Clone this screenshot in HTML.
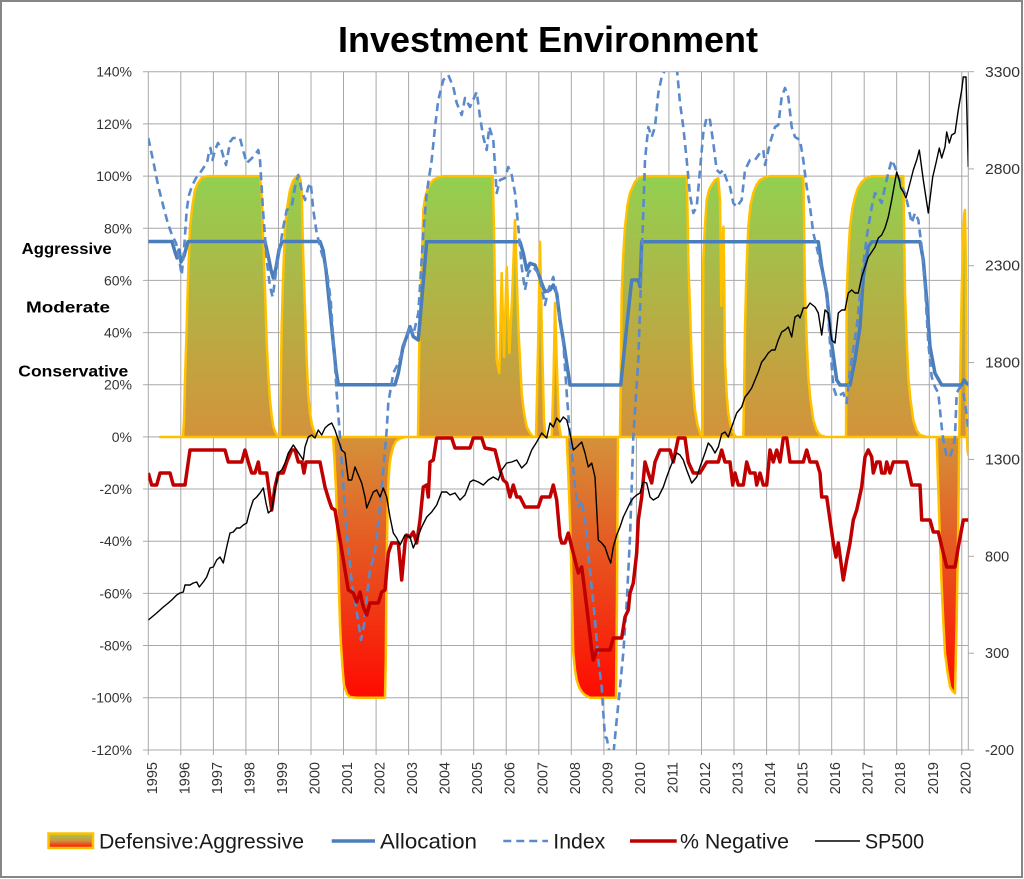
<!DOCTYPE html>
<html><head><meta charset="utf-8"><style>
html,body{margin:0;padding:0;background:#fff;}
svg{display:block;font-family:"Liberation Sans",Arial,sans-serif;}
</style></head><body>
<svg width="1024" height="879" viewBox="0 0 1024 879" xmlns="http://www.w3.org/2000/svg">
<defs>
<linearGradient id="ag" gradientUnits="userSpaceOnUse" x1="0" y1="176" x2="0" y2="698">
<stop offset="0" stop-color="#92D050"/>
<stop offset="0.5" stop-color="#D4923A"/>
<stop offset="1" stop-color="#FF0A00"/>
</linearGradient>
<linearGradient id="lg" x1="0" y1="0" x2="0" y2="1">
<stop offset="0" stop-color="#92D050"/>
<stop offset="0.5" stop-color="#D4923A"/>
<stop offset="1" stop-color="#FF0A00"/>
</linearGradient>
<clipPath id="pc"><rect x="148.3" y="71.7" width="820" height="678.3"/></clipPath>
</defs>
<rect x="0" y="0" width="1024" height="879" fill="#fff"/>
<rect x="1" y="1" width="1021" height="876" fill="none" stroke="#868686" stroke-width="2"/>

<text x="548" y="52" text-anchor="middle" font-size="36" font-weight="bold" fill="#000">Investment Environment</text>

<!-- gridlines -->
<g stroke="#A8A8A8" stroke-width="1">
<line x1="143" y1="71.7" x2="968.3" y2="71.7"/>
<line x1="143" y1="123.9" x2="968.3" y2="123.9"/>
<line x1="143" y1="176.1" x2="968.3" y2="176.1"/>
<line x1="143" y1="228.3" x2="968.3" y2="228.3"/>
<line x1="143" y1="280.4" x2="968.3" y2="280.4"/>
<line x1="143" y1="332.6" x2="968.3" y2="332.6"/>
<line x1="143" y1="384.7" x2="968.3" y2="384.7"/>
<line x1="143" y1="436.9" x2="968.3" y2="436.9"/>
<line x1="143" y1="489" x2="968.3" y2="489"/>
<line x1="143" y1="541.2" x2="968.3" y2="541.2"/>
<line x1="143" y1="593.4" x2="968.3" y2="593.4"/>
<line x1="143" y1="645.5" x2="968.3" y2="645.5"/>
<line x1="143" y1="697.7" x2="968.3" y2="697.7"/>
<line x1="143" y1="750" x2="974" y2="750"/>
<line x1="148.3" y1="71.7" x2="148.3" y2="755"/>
<line x1="180.8" y1="71.7" x2="180.8" y2="755"/>
<line x1="213.4" y1="71.7" x2="213.4" y2="755"/>
<line x1="245.9" y1="71.7" x2="245.9" y2="755"/>
<line x1="278.5" y1="71.7" x2="278.5" y2="755"/>
<line x1="311" y1="71.7" x2="311" y2="755"/>
<line x1="343.5" y1="71.7" x2="343.5" y2="755"/>
<line x1="376.1" y1="71.7" x2="376.1" y2="755"/>
<line x1="408.6" y1="71.7" x2="408.6" y2="755"/>
<line x1="441.2" y1="71.7" x2="441.2" y2="755"/>
<line x1="473.7" y1="71.7" x2="473.7" y2="755"/>
<line x1="506.2" y1="71.7" x2="506.2" y2="755"/>
<line x1="538.8" y1="71.7" x2="538.8" y2="755"/>
<line x1="571.3" y1="71.7" x2="571.3" y2="755"/>
<line x1="603.9" y1="71.7" x2="603.9" y2="755"/>
<line x1="636.4" y1="71.7" x2="636.4" y2="755"/>
<line x1="668.9" y1="71.7" x2="668.9" y2="755"/>
<line x1="701.5" y1="71.7" x2="701.5" y2="755"/>
<line x1="734" y1="71.7" x2="734" y2="755"/>
<line x1="766.6" y1="71.7" x2="766.6" y2="755"/>
<line x1="799.1" y1="71.7" x2="799.1" y2="755"/>
<line x1="831.7" y1="71.7" x2="831.7" y2="755"/>
<line x1="864.2" y1="71.7" x2="864.2" y2="755"/>
<line x1="896.7" y1="71.7" x2="896.7" y2="755"/>
<line x1="929.3" y1="71.7" x2="929.3" y2="755"/>
<line x1="961.8" y1="71.7" x2="961.8" y2="755"/>
<line x1="968.3" y1="71.7" x2="968.3" y2="750"/>
<line x1="968.3" y1="71.7" x2="974" y2="71.7"/>
<line x1="968.3" y1="168.9" x2="974" y2="168.9"/>
<line x1="968.3" y1="265.7" x2="974" y2="265.7"/>
<line x1="968.3" y1="362.6" x2="974" y2="362.6"/>
<line x1="968.3" y1="459.4" x2="974" y2="459.4"/>
<line x1="968.3" y1="556.3" x2="974" y2="556.3"/>
<line x1="968.3" y1="653.2" x2="974" y2="653.2"/>
</g>

<!-- left axis labels -->
<g font-size="14" fill="#333" text-anchor="end">
<text x="132" y="76.7">140%</text>
<text x="132" y="128.9">120%</text>
<text x="132" y="181.1">100%</text>
<text x="132" y="233.3">80%</text>
<text x="132" y="285.4">60%</text>
<text x="132" y="337.6">40%</text>
<text x="132" y="389.7">20%</text>
<text x="132" y="441.9">0%</text>
<text x="132" y="494">-20%</text>
<text x="132" y="546.2">-40%</text>
<text x="132" y="598.4">-60%</text>
<text x="132" y="650.5">-80%</text>
<text x="132" y="702.7">-100%</text>
<text x="132" y="755">-120%</text>
</g>
<!-- right axis labels -->
<g font-size="14.5" fill="#333">
<text x="985" y="77" textLength="35" lengthAdjust="spacingAndGlyphs">3300</text>
<text x="985" y="173.9" textLength="35" lengthAdjust="spacingAndGlyphs">2800</text>
<text x="985" y="270.7" textLength="35" lengthAdjust="spacingAndGlyphs">2300</text>
<text x="985" y="367.6" textLength="35" lengthAdjust="spacingAndGlyphs">1800</text>
<text x="985" y="464.4" textLength="35" lengthAdjust="spacingAndGlyphs">1300</text>
<text x="985" y="561.3">800</text>
<text x="985" y="658.2">300</text>
<text x="985" y="755">-200</text>
</g>
<!-- category labels -->
<g font-size="16" font-weight="bold" fill="#000">
<text x="21.7" y="254" textLength="90" lengthAdjust="spacingAndGlyphs">Aggressive</text>
<text x="26" y="312.7" textLength="84" lengthAdjust="spacingAndGlyphs">Moderate</text>
<text x="18.3" y="376.7" textLength="110" lengthAdjust="spacingAndGlyphs">Conservative</text>
</g>
<!-- year labels -->
<g font-size="14.5" fill="#333" text-anchor="end">
<text transform="translate(156.8,762) rotate(-90)">1995</text>
<text transform="translate(189.3,762) rotate(-90)">1996</text>
<text transform="translate(221.9,762) rotate(-90)">1997</text>
<text transform="translate(254.4,762) rotate(-90)">1998</text>
<text transform="translate(287,762) rotate(-90)">1999</text>
<text transform="translate(319.5,762) rotate(-90)">2000</text>
<text transform="translate(352,762) rotate(-90)">2001</text>
<text transform="translate(384.6,762) rotate(-90)">2002</text>
<text transform="translate(417.1,762) rotate(-90)">2003</text>
<text transform="translate(449.7,762) rotate(-90)">2004</text>
<text transform="translate(482.2,762) rotate(-90)">2005</text>
<text transform="translate(514.7,762) rotate(-90)">2006</text>
<text transform="translate(547.3,762) rotate(-90)">2007</text>
<text transform="translate(579.8,762) rotate(-90)">2008</text>
<text transform="translate(612.4,762) rotate(-90)">2009</text>
<text transform="translate(644.9,762) rotate(-90)">2010</text>
<text transform="translate(677.4,762) rotate(-90)">2011</text>
<text transform="translate(710,762) rotate(-90)">2012</text>
<text transform="translate(742.5,762) rotate(-90)">2013</text>
<text transform="translate(775.1,762) rotate(-90)">2014</text>
<text transform="translate(807.6,762) rotate(-90)">2015</text>
<text transform="translate(840.2,762) rotate(-90)">2016</text>
<text transform="translate(872.7,762) rotate(-90)">2017</text>
<text transform="translate(905.2,762) rotate(-90)">2018</text>
<text transform="translate(937.8,762) rotate(-90)">2019</text>
<text transform="translate(970.3,762) rotate(-90)">2020</text>
</g>

<g clip-path="url(#pc)">
<!-- Defensive:Aggressive area -->
<path fill="url(#ag)" stroke="#FFC000" stroke-width="2.5" stroke-linejoin="round" d="M160,437 L183,437 L184,420 L185,380 L186.7,327 L188,280 L190,227 L192.5,205 L195,190 L198,183 L201.7,178 L206,176.5 L210,176.1 L260,176.1 L262,200 L263.3,243 L265,290 L266.7,343 L268.3,375 L270,400 L271.7,416 L273.3,426.7 L276.7,435 L279,437 L280,437 L280.5,400 L281.7,327 L283,280 L285,227 L287.5,205 L290,190 L293,181 L296.7,176.1 L299,176.1 L300.5,180 L301.7,193 L303.3,260 L305,310 L306.7,360 L308.3,395 L310,413 L312,425 L314,431 L317,435 L320,437 L333,437 L334.5,460 L336,489 L337,520 L338,552 L339,590 L340,625 L341,645 L342.5,668 L344,685 L347,694 L350,697 L357,697.7 L385,697.7 L385.8,660 L386.3,600 L387,540 L388,489 L389.5,465 L391,455 L393.5,446 L396,441 L400,438.5 L405,437 L418,437 L418.5,400 L419.5,330 L421,293 L423.3,210 L425,198 L428.3,187 L433.3,180 L438,177.5 L443.3,176.1 L492.7,176.1 L494,230 L495,293 L496.7,360 L499.3,373 L501.7,273 L504,357 L506.7,267 L509.3,353 L512,300 L515,220 L518.3,327 L521.7,393 L524,413 L526.7,427 L530,433 L533.3,437 L536,437 L538,350 L540,241.7 L542,340 L544,420 L545.5,437 L551.7,437 L553.5,380 L555,303 L557,370 L559,425 L561,437 L566.7,437 L568.5,480 L570,520 L571.7,587 L573.3,653 L575,670 L576.7,680 L579,687 L581.7,691.7 L585,695 L590,697.7 L616,697.7 L617,600 L617.5,500 L618,437 L620,437 L620.7,380 L621.7,293 L623,260 L625,227 L627.5,205 L630,193 L635,181.7 L639,178 L643.3,176.1 L686.7,176.1 L687.5,210 L688.3,260 L690,310 L691.7,360 L693.3,390 L695,410 L697.5,425 L700,433 L701.7,437 L702.5,437 L703.3,260 L705,225 L706.7,200 L709,190 L711.7,185 L715,180 L718.3,178.3 L720,200 L721.3,306 L722.5,240 L723.5,226.7 L724.3,290 L725,360 L726.7,395 L728.3,413 L730.5,426 L733.3,433 L736,437 L743.3,437 L744,400 L745,327 L746.5,270 L748.3,227 L750.5,205 L753.3,193 L756.5,185 L760,180 L765,177.5 L770,176.1 L803.3,176.1 L804,220 L805,293 L806.7,340 L808.3,377 L810.5,400 L813.3,420 L816.5,430 L820,435 L826,437 L846,437 L846.3,380 L846.7,293 L848.3,255 L850,227 L852.5,208 L855,197 L858,188 L861.7,182 L866,178.5 L871.7,176.1 L903.3,176.1 L904,220 L905,293 L906.7,340 L908.3,377 L910.5,400 L913.3,420 L916.5,430 L920,435 L926.7,437 L936.7,437 L938,480 L939.3,520 L941.7,587 L943.5,625 L945,653 L947.5,672 L950,686.7 L952.5,691 L955,693.3 L956.7,620 L958.3,520 L959.3,437 L960.5,360 L961.7,293 L963,240 L964.2,214 L965,210 L965.8,260 L966.7,427 L967.5,450 L968.3,455 L968.3,437 Z"/>

<!-- Allocation -->
<polyline fill="none" stroke="#4A7EBB" stroke-width="3.5" stroke-linejoin="round" points="148.3,241.5 172,241.5 175,252 177,258 179,250 181,262 184,256 188,241.5 265,241.5 268,255 271,270 273.3,278 276,268 279,250 282,241.5 320,241.5 323,250 326,270 329,300 332,330 334,350 336,370 338.3,384.7 395,384.7 398.3,373.3 403,346.7 406.7,336.7 410,326.7 413.3,336.7 418.3,340 426.7,241.7 520,241.7 523.3,253.3 526.7,270 530,263.3 535,265 538.3,273.3 541.7,283.3 545,291.7 550,290 553.3,285 556.7,293.3 560,320 563.3,340 566.7,363.3 570,385 620.7,385 626.7,326.7 631.7,280 638.3,280 640,286.7 641.7,241.7 818.3,241.7 821.7,266.7 826.7,293.3 831.7,343.3 836.7,380 840,385 850,385 855,360 860,326.7 863.3,276.7 868.3,246.7 871.7,241.7 920,241.7 923.3,260 926.7,300 930,346.7 935,373.3 941.7,385 961.7,385 964,380 966.7,383.3 969.3,385"/>

<!-- Index -->
<polyline fill="none" stroke="#5A8ACB" stroke-width="2.6" stroke-dasharray="8,5" stroke-linejoin="round" points="148.3,138 153,160 158,185 163,205 168,224 172,235 176,243 179,258 181.7,275 184,250 186.7,210 189,195 192,186 196,178 200,173 204,167 207,163 209,152 210.5,148 212.5,160 215,150 218,143 221,148 223.5,157 226,165 228.3,152 230,142 233,138 240,138 243,150 246.7,163 250,160 254,156 258.3,150 260,160 263,210 266.7,260 270,287 272.7,297 276.7,267 280,247 283.3,227 286.7,210 291.7,207 295,187 298.3,175 301.7,190 305,200 308.3,187 310.7,183 313.3,210 316.7,233 321.7,253 326.7,270 330.7,300 333.3,340 336.7,393 340,437 343,480 346,525 349,555 352,585 355,600 358,620 361,640 364,625 367,595 370,570 373,560 376,545 379,515 382,485 384,462 386.7,430 388.3,403 393.3,373 398.3,363 403,350 406.7,337 410,325 413.3,335 418.3,313 423.3,233 426.7,193 431.7,160 435,127 438.3,100 443.3,80 448.3,75 453.3,87 456.7,103 461.7,115 465,98 470,107 476.7,92 480,117 483.3,137 486.7,150 489.3,127 493.3,140 496.7,193 500,180 505,178 508.3,167 511.7,175 515,193 518.3,227 521.7,267 525,290 528.3,273 533.3,267 538.3,273 541.7,287 545,305 548.3,290 553.3,277 556.7,293 560,323 563.3,343 566.7,393 570,437 571.7,453 575,487 578.3,507 581.7,500 585,520 588.3,553 591.7,587 595,620 598.3,660 601.7,687 603.3,713 605,737 606.7,738 610,755 613.3,755 616.7,720 620,687 623.3,653 626.7,603 630,537 631.7,487 633.3,437 638.3,360 641.7,260 645,160 648.3,127 651.7,137 655,127 658.3,93 661.7,77 665,70 677,70 680,103 683.3,127 686.7,160 690,195 693.3,213 696.7,207 700,170 703.3,133 706.7,117 710,120 713.3,143 716.7,170 720,173 723.3,170 726.7,180 730,187 733.3,203 736.7,207 741.7,200 745,170 750,160 755,160 760,153 763.3,150 765,165 770,143 775,127 778.3,125 781.7,97 785,88 788.3,97 791.7,127 795,137 800,140 803.3,160 806.7,187 810,207 813.3,233 816.7,247 821.7,270 826.7,293 830,343 833.3,387 836.7,397 843.3,393 846.7,403 850,370 856.7,327 861.7,277 866.7,237 871.7,207 875,193 878.3,197 881.7,203 885,187 888.3,173 891.7,160 895,167 898.3,177 901.7,187 905,193 908.3,207 911.7,223 915,213 918.3,220 921.7,247 925,287 928.3,343 931.7,377 935,387 938.3,393 941.7,427 943.3,440 946.7,457 950,457 953.3,447 955,437 956.7,393 960,387 963.3,393 966,410 968.3,430"/>

<!-- % Negative -->
<polyline fill="none" stroke="#C00000" stroke-width="3.5" stroke-linejoin="round" points="148.3,473 151.7,485 156.7,485 160,473 170,473 173.3,485 185,485 190,450 225,450 228.3,462 241.7,462 245,450 248.3,462 251.7,473 255,473 258.3,462 260,473 266.7,473 271.7,510 275,487 278.3,473 283.3,473 286.7,462 291.7,450 295,450 298.3,462 302,462 304,473 306,462 320,462 325,487 328.3,498 331.7,508 335,510 338.3,530 341.7,550 345,570 348.3,590 353.3,593 356.7,602 360,592 363.3,607 366.7,615 370,603 378.3,603 381.7,592 385,590 388.3,553 391.7,543 398.3,543 401.7,580 405,543 406.7,535 410,537 413.3,532 416.7,543 420,520 423.3,487 426.7,485 428.3,497 430,462 433.3,460 436.7,438 451.7,438 455,448 470,448 473.3,438 481.7,438 485,448 495,450 500,470 503.3,480 506.7,483 510,497 513.3,485 516.7,497 520,497 525,507 538.3,507 541.7,497 550,497 553.3,485 556.7,500 560,537 561.7,543 565,543 568.3,533 571.7,547 575,560 578.3,573 581.7,567 585,593 588.3,620 591.7,650 593.3,660 596.7,650 610,650 613.3,638 621.7,638 625,617 628.3,610 630,593 633.3,583 636.7,553 638.3,520 641.7,497 645,462 648.3,473 651.7,483 655,462 660,450 670,450 673.3,462 678.3,438 685,438 688.3,462 693.3,473 700,473 706.7,462 718.3,462 721.7,450 725,462 730,462 732.7,485 735,473 738.3,485 743.3,485 746.7,462 750,473 755,473 756.7,485 760,473 763.3,485 766.7,485 770,450 773.3,462 776.7,450 780,462 783.3,438 786.7,438 790,462 803.3,462 806.7,450 810,462 816.7,462 820,473 821.7,497 826.7,497 830,520 833.3,543 836,557 838.3,543 843.3,580 846.7,560 850,543 853.3,520 856.7,510 861.7,487 865,457 868.3,450 871.7,457 873.3,473 876.7,462 880,462 881.7,473 885,473 886.7,462 890,473 893.3,462 906.7,462 911.7,485 920,485 921.7,520 930,520 933.3,532 938.3,532 943.3,553 946.7,567 955,567 958.3,547 963.3,520 968.3,520"/>

<!-- SP500 -->
<polyline fill="none" stroke="#000" stroke-width="1.4" stroke-linejoin="round" points="148.3,620 156.7,613 163.3,607 168.3,603 171.7,600 176.7,595 180,593 183.3,592 185,585 190,585 193.3,583 196.7,582 199.3,587 203.3,582 206.7,577 210,568 213.3,567 216.7,560 220,557 223.3,563 226.7,547 230,533 233.3,532 236.7,528 240,528 243.3,525 246.7,523 250,510 253.3,500 256.7,497 260,493 263.3,488 266,503 268.3,513 271.7,510 275,490 278.3,473 281.7,470 285,463 288.3,453 293.3,445 296.7,450 300,455 303.3,460 305,447 308.3,437 311.7,435 315,438 318.3,430 321.7,435 325,428 328.3,425 331.7,423 335,430 338.3,440 341.7,450 345,453 348.3,480 351.7,480 355,467 358.3,475 361.7,483 365,497 366.7,508 370,500 373.3,492 376.7,490 380,497 383.3,488 386.7,497 390,517 393.3,533 396.7,538 400,545 405,535 410,537 413.3,548 416.7,540 421.7,527 426.7,517 431.7,512 436.7,505 441.7,492 446.7,492 450,495 455,493 460,500 465,495 470,482 473.3,480 478.3,482 483.3,485 488.3,480 493.3,477 498.3,480 501.7,470 506.7,463 511.7,462 516.7,460 521.7,468 526.7,463 531.7,450 536.7,442 541.7,433 546.7,438 550,423 553.3,427 556.7,418 560,422 563.3,417 566.7,420 570,433 573.3,450 576.7,447 581.7,442 585,453 588.3,467 591.7,463 595,477 598.3,540 601.7,543 605,547 608.3,557 610.7,563 613.3,547 616.7,535 620,527 623.3,517 626.7,510 630,503 633.3,498 636.7,495 640,493 643.3,482 646.7,483 650,497 653.3,500 658.3,497 663.3,487 666.7,477 670,468 673.3,460 676.7,453 680,455 683.3,460 686.7,470 691.7,483 696.7,477 700,467 705,453 708.3,443 711.7,447 715,453 718.3,447 721.7,434 725,432 728.3,437 731.7,427 736.7,413 741.7,407 745,397 748.3,393 751.7,388 755,380 758.3,372 761.7,362 765,358 768.3,353 771.7,350 775,350 778.3,340 781.7,332 785,330 788.3,327 791.7,337 795,317 798.3,315 800,318 803.3,308 806.7,308 810,303 815,307 818.3,313 821.7,335 825,310 828.3,313 831.7,340 835,343 838.3,313 841.7,310 845,310 848.3,293 851.7,290 855,293 858.3,293 861.7,277 865,267 868.3,257 871.7,252 875,247 878.3,238 881.7,235 885,228 888.3,217 891.7,200 894,187 896.7,172 899.3,180 900.7,188 903.3,192 906,198 910,183 913.3,170 916.7,160 919.3,150 923.3,180 928.3,213 932.7,177 936,163 939.3,148 941.7,158 945,147 946.7,132 949.3,143 951.7,135 955,133 958.3,110 961.7,90 963.3,77 966,77 968.3,167"/>
</g>

<!-- legend -->
<rect x="48.5" y="833.5" width="44.5" height="14.5" fill="url(#lg)" stroke="#FFC000" stroke-width="2.5"/>
<g font-size="21" fill="#1a1a1a">
<text x="99" y="848.5" textLength="205" lengthAdjust="spacingAndGlyphs">Defensive:Aggressive</text>
<text x="380" y="848.5" textLength="97" lengthAdjust="spacingAndGlyphs">Allocation</text>
<text x="553.3" y="848.5" textLength="52" lengthAdjust="spacingAndGlyphs">Index</text>
<text x="680" y="848.5" textLength="109" lengthAdjust="spacingAndGlyphs">% Negative</text>
<text x="865" y="848.5" textLength="59" lengthAdjust="spacingAndGlyphs">SP500</text>
</g>
<line x1="331.7" y1="841" x2="375" y2="841" stroke="#4A7EBB" stroke-width="3.5"/>
<line x1="503.3" y1="841" x2="548" y2="841" stroke="#5A8ACB" stroke-width="2.6" stroke-dasharray="8,5"/>
<line x1="630" y1="841" x2="676.7" y2="841" stroke="#C00000" stroke-width="3.5"/>
<line x1="815" y1="841" x2="860" y2="841" stroke="#000" stroke-width="1.4"/>
</svg>
</body></html>
